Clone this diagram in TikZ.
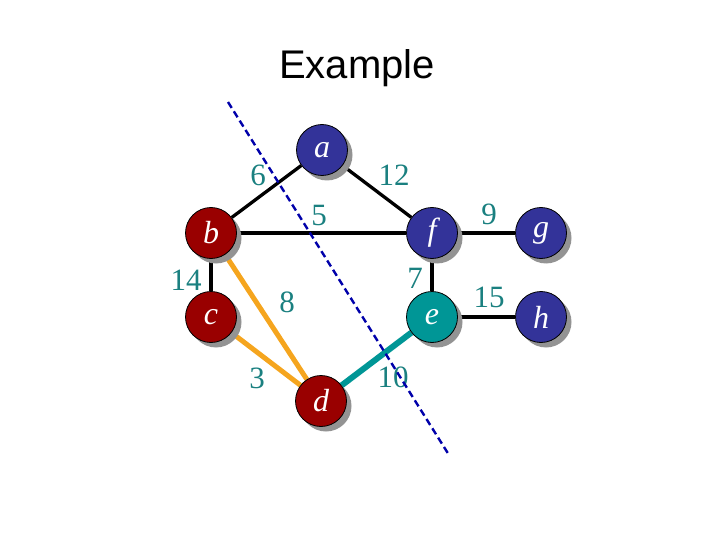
\documentclass[tikz,border=0pt]{standalone}
\usepackage{fontspec}
\setmainfont{Liberation Serif}
\newfontfamily\titlefont{Liberation Sans}
\usetikzlibrary{shadows,backgrounds}
\definecolor{nodeblue}{RGB}{51,51,153}
\definecolor{nodered}{RGB}{153,0,0}
\definecolor{nodeteal}{RGB}{0,150,150}
\definecolor{lblteal}{RGB}{26,128,128}
\definecolor{edgeorange}{RGB}{245,165,30}
\definecolor{cutblue}{RGB}{0,0,170}
\tikzset{
  vtx/.style={circle, draw=black, line width=0.8pt, minimum size=51pt, inner sep=0pt,
    text=white, font=\itshape\fontsize{32}{32}\selectfont,
    drop shadow={shadow xshift=5pt, shadow yshift=-5pt, fill=gray!85, opacity=1}},
  bluev/.style={vtx, fill=nodeblue},
  redv/.style={vtx, fill=nodered},
  tealv/.style={vtx, fill=nodeteal},
  wlbl/.style={text=lblteal, font=\fontsize{31}{31}\selectfont, inner sep=0pt},
  plain/.style={draw=black, line width=3.3pt},
  orangeedge/.style={draw=edgeorange, line width=5pt},
  tealedge/.style={draw=nodeteal, line width=6pt},
  cut/.style={draw=cutblue, line width=2.4pt, dash pattern=on 7pt off 4pt}
}
\begin{document}
\begin{tikzpicture}[x=1pt,y=-1pt]
\useasboundingbox (0,0) rectangle (720,540);
\node[font=\titlefont\fontsize{40}{40}\selectfont, inner sep=0pt] (title) at (357,68) {Example};
\node[bluev] (a) at (322,150) {$\mathit{a}$};
\node[redv] (b) at (211,233) {$\mathit{b}$};
\node[redv] (c) at (211,317) {$\mathit{c}$};
\node[redv] (d) at (321,401) {$\mathit{d}$};
\node[bluev] (f) at (432,233) {$\mathit{f}$};
\node[tealv] (e) at (432,317) {$\mathit{e}$};
\node[bluev] (g) at (541,233) {$\mathit{g}$};
\node[bluev] (h) at (541,317) {$\mathit{h}$};
\begin{scope}[on background layer]
\draw[plain] (a) -- (b);
\draw[plain] (a) -- (f);
\draw[plain] (b) -- (f);
\draw[plain] (b) -- (c);
\draw[plain] (f) -- (e);
\draw[plain] (f) -- (g);
\draw[plain] (e) -- (h);
\draw[orangeedge] (b) -- (d);
\draw[orangeedge] (c) -- (d);
\draw[tealedge] (d) -- (e);
\end{scope}
\node[wlbl] (l6) at (258,175) {6};
\node[wlbl] (l12) at (394,175) {12};
\node[wlbl] (l5) at (319,216) {5};
\node[wlbl] (l14) at (186,280) {14};
\node[wlbl] (l8) at (287,302) {8};
\node[wlbl] (l7) at (415,278) {7};
\node[wlbl] (l3) at (257,378) {3};
\node[wlbl] (l10) at (393,377) {10};
\node[wlbl] (l9) at (489,214) {9};
\node[wlbl] (l15) at (489,297) {15};
\coordinate (cutA) at (228,102);
\coordinate (cutB) at (449,455);
\draw[cut] (cutA) -- (cutB);
\end{tikzpicture}
\end{document}
